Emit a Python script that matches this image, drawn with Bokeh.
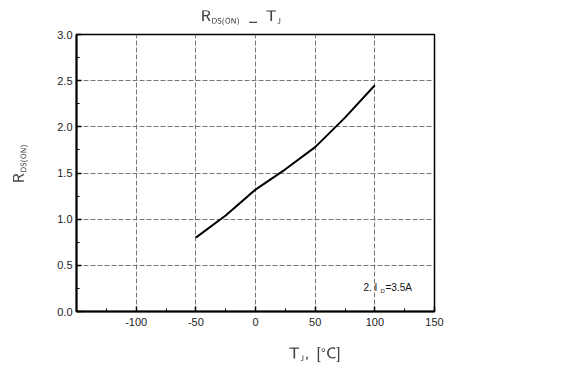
from bokeh.plotting import figure
from bokeh.models import Range1d, FixedTicker, Label, LinearAxis, TeX
from bokeh.embed import file_html
from bokeh.resources import INLINE

# Data
temps = [-50, -25, 0, 25, 50, 75, 100]
rds_on = [0.80, 1.04, 1.32, 1.54, 1.78, 2.10, 2.45]
x_ticks = [-100, -50, 0, 50, 100, 150]
y_ticks = [0.0, 0.5, 1.0, 1.5, 2.0, 2.5, 3.0]
note_text = "2. I"
note_sub = "D"
note_rest = "=3.5A"

FONT = "Liberation Sans"
W, H = 581, 370
L, R, T, B = 76, 434, 34, 311

p = figure(width=W, height=H, output_backend="svg", toolbar_location=None,
           x_range=Range1d(-150, 150), y_range=Range1d(0, 3),
           min_border_left=L, min_border_right=W - R,
           min_border_top=T, min_border_bottom=H - B)
p.background_fill_color = "white"
p.border_fill_color = "white"
p.outline_line_color = "black"
p.outline_line_width = 1.5

for ax in (p.xaxis, p.yaxis):
    ax.axis_line_width = 2
    ax.axis_line_color = "black"
    ax.major_tick_in = 5
    ax.major_tick_out = 0
    ax.minor_tick_in = 3
    ax.minor_tick_out = 0
    ax.major_tick_line_width = 1.5
    ax.major_label_text_font = FONT
    ax.major_label_text_font_size = "11px"
    ax.major_label_text_color = "#222222"

p.xaxis.ticker = FixedTicker(ticks=x_ticks, minor_ticks=list(range(-125, 150, 25)))
p.yaxis.ticker = FixedTicker(ticks=y_ticks, minor_ticks=[0.25 + 0.5 * i for i in range(6)])
p.xaxis.major_label_overrides = {v: str(v) for v in x_ticks}
p.yaxis.major_label_overrides = {v: f"{v:.1f}" for v in y_ticks}
p.xaxis.major_label_standoff = 6
p.yaxis.major_label_standoff = 4

# Axis titles (TeX for the subscripts)
p.yaxis.axis_label = TeX(text=r"\hspace{1.2em}\mathsf{R_{\scriptscriptstyle DS(ON)}}")
p.yaxis.axis_label_standoff = 26
p.yaxis.axis_label_text_font_size = "13px"
p.xaxis.axis_label = TeX(text=r"\hspace{7.5em}\mathsf{T_{\scriptscriptstyle J},\;[{}^{\scriptscriptstyle o}C]}")
p.xaxis.axis_label_standoff = 18
p.xaxis.axis_label_text_font_size = "12px"

# Chart title drawn as the label of an empty top axis
top = LinearAxis(ticker=FixedTicker(ticks=[]), axis_line_color=None,
                 major_tick_line_color=None, minor_tick_line_color=None,
                 axis_label=TeX(text=r"\mathsf{R_{\scriptscriptstyle DS(ON)}\;\;\_\;\;T_{\scriptscriptstyle J}}\hspace{1.8em}"),
                 axis_label_standoff=9, axis_label_text_font_size="12px")
p.add_layout(top, "above")

p.xgrid.ticker = FixedTicker(ticks=x_ticks)
p.ygrid.ticker = FixedTicker(ticks=y_ticks)
for g in (p.xgrid, p.ygrid):
    g.grid_line_color = "#777777"
    g.grid_line_dash = "5 2"
    g.grid_line_width = 1

p.line(temps, rds_on, line_color="black", line_width=2)


def lab(px, py, text, size):
    # screen units are measured from the frame's bottom-left corner
    p.add_layout(Label(x=px - L, y=B - py, x_units="screen", y_units="screen",
                       text=text, text_font=FONT,
                       text_font_size=size, text_color="#111111",
                       text_baseline="alphabetic"))

# Note
lab(363, 287, note_text, "10px")
lab(380, 290, note_sub, "6px")
lab(385, 287, note_rest, "10px")

open("out.html", "w").write(file_html(p, INLINE))
